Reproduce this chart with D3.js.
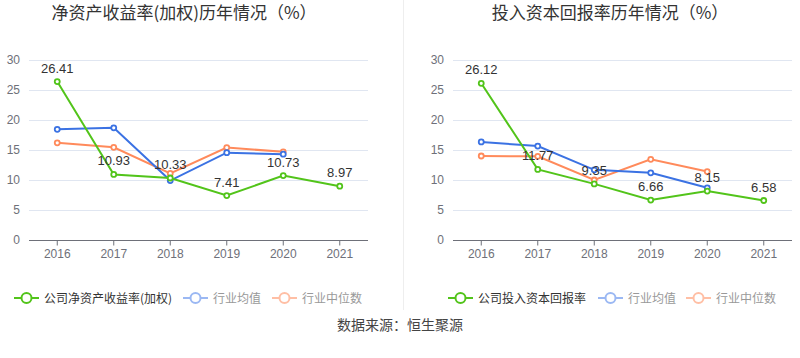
<!DOCTYPE html>
<html>
<head>
<meta charset="utf-8">
<script src="https://cdn.jsdelivr.net/npm/d3@7/dist/d3.min.js"></script>
<style>
  body { margin: 0; background: #fff; }
  svg { display: block; font-family: "Noto Sans CJK SC", "Liberation Sans", sans-serif; }
</style>
</head>
<body>
<svg id="chart" width="800" height="358"></svg>
<script>
var years = ["2016", "2017", "2018", "2019", "2020", "2021"];
var yTicks = [0, 5, 10, 15, 20, 25, 30];

// left: ROE (weighted)
var roeCompany = [26.41, 10.93, 10.33, 7.41, 10.73, 8.97];
var roeAvg = [18.45, 18.7, 9.9, 14.55, 14.3, null];
var roeMedian = [16.2, 15.45, 11.1, 15.4, 14.7, null];

// right: ROIC
var roicCompany = [26.12, 11.77, 9.35, 6.66, 8.15, 6.58];
var roicAvg = [16.35, 15.65, 11.7, 11.2, 8.7, null];
var roicMedian = [14.0, 13.95, 10.0, 13.45, 11.4, null];

var green = "#52c41a", blue = "#3b72e3", orange = "#ff8a5b";
var blueLight = "#9bb8f3", orangeLight = "#ffbfa5";

var svg = d3.select("#chart");

// divider between the two panels
svg.append("line")
    .attr("x1", 403.5).attr("x2", 403.5)
    .attr("y1", 0).attr("y2", 310)
    .attr("stroke", "#eeeeee");

svg.append("text")
    .attr("x", 400).attr("y", 330)
    .attr("text-anchor", "middle")
    .attr("font-size", 14)
    .attr("fill", "#444")
    .text("数据来源：恒生聚源");

function drawPanel(opt) {
    var g = svg.append("g");
    var x = d3.scaleBand().domain(years).range([opt.left, opt.right]);
    var y = d3.scaleLinear().domain([0, 30]).range([240, 60]);
    var cx = function (d, i) { return x(years[i]) + x.bandwidth() / 2; };

    g.append("text")
        .attr("x", opt.titleX).attr("y", 19)
        .attr("text-anchor", "middle")
        .attr("font-size", 17)
        .attr("fill", "#333")
        .text(opt.title);

    // grid
    g.selectAll(".grid").data(yTicks.slice(1)).enter().append("line")
        .attr("x1", opt.left).attr("x2", opt.right)
        .attr("y1", function (d) { return y(d) + 0.5; })
        .attr("y2", function (d) { return y(d) + 0.5; })
        .attr("stroke", "#e0e6f1");

    var yAxis = d3.axisLeft(y).tickValues(yTicks).tickSize(0).tickPadding(9);
    var ya = g.append("g").attr("transform", "translate(" + opt.left + ",0)").call(yAxis);
    ya.select(".domain").remove();
    ya.selectAll("text").attr("font-size", 12).attr("fill", "#6e7079")
        .attr("font-family", "Liberation Sans, sans-serif");

    var xAxis = d3.axisBottom(x).tickSize(5).tickPadding(4);
    var xa = g.append("g").attr("transform", "translate(0,240.5)").call(xAxis);
    xa.select(".domain").attr("stroke", "#6e7079").attr("d", "M" + opt.left + ",0H" + opt.right);
    xa.selectAll(".tick line").attr("stroke", "#6e7079");
    xa.selectAll("text").attr("font-size", 12).attr("fill", "#6e7079")
        .attr("font-family", "Liberation Sans, sans-serif");

    var series = [
        { values: opt.median, color: orange },
        { values: opt.avg, color: blue },
        { values: opt.company, color: green }
    ];
    series.forEach(function (s) {
        var line = d3.line()
            .defined(function (d) { return d != null; })
            .x(cx)
            .y(function (d) { return y(d); });
        g.append("path").datum(s.values)
            .attr("d", line)
            .attr("fill", "none")
            .attr("stroke", s.color)
            .attr("stroke-width", 2);
        g.selectAll(null).data(s.values).enter()
            .filter(function (d) { return d != null; })
            .append("circle")
            .attr("cx", cx)
            .attr("cy", function (d) { return y(d); })
            .attr("r", 2.5)
            .attr("fill", "#fff")
            .attr("stroke", s.color)
            .attr("stroke-width", 1.8);
    });

    g.selectAll(".lbl").data(opt.company).enter().append("text")
        .attr("x", cx)
        .attr("y", function (d) { return y(d) - 9; })
        .attr("text-anchor", "middle")
        .attr("font-size", 13)
        .attr("fill", "#333")
        .attr("font-family", "Liberation Sans, sans-serif")
        .text(function (d) { return d.toFixed(2); });

    // legend
    var items = [
        { name: opt.legendName, icon: green, text: "#333", x: opt.legendX[0] },
        { name: "行业均值", icon: blueLight, text: "#999", x: opt.legendX[1] },
        { name: "行业中位数", icon: orangeLight, text: "#999", x: opt.legendX[2] }
    ];
    var lg = g.selectAll(".leg").data(items).enter().append("g")
        .attr("transform", function (d) { return "translate(" + d.x + ",298)"; });
    lg.append("line").attr("x1", 0).attr("x2", 25).attr("y1", 0).attr("y2", 0)
        .attr("stroke", function (d) { return d.icon; }).attr("stroke-width", 2);
    lg.append("circle").attr("cx", 12.5).attr("cy", 0).attr("r", 5)
        .attr("fill", "#fff").attr("stroke", function (d) { return d.icon; }).attr("stroke-width", 2);
    lg.append("text").attr("x", 30).attr("y", 4.5)
        .attr("font-size", 12)
        .attr("fill", function (d) { return d.text; })
        .text(function (d) { return d.name; });
}

drawPanel({
    left: 29, right: 368, titleX: 184,
    title: "净资产收益率(加权)历年情况（%）",
    company: roeCompany, avg: roeAvg, median: roeMedian,
    legendName: "公司净资产收益率(加权)",
    legendX: [14, 183, 272]
});

drawPanel({
    left: 453, right: 792, titleX: 610,
    title: "投入资本回报率历年情况（%）",
    company: roicCompany, avg: roicAvg, median: roicMedian,
    legendName: "公司投入资本回报率",
    legendX: [448, 598, 686]
});
</script>
</body>
</html>
